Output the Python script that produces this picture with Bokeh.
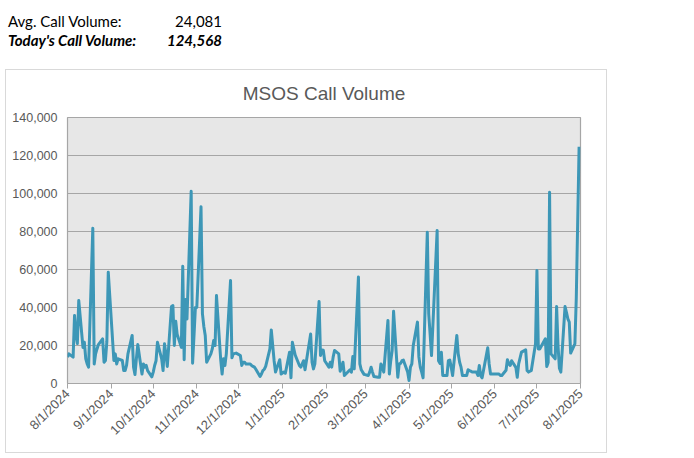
import math
import pandas as pd
from bokeh.plotting import figure
from bokeh.models import (ColumnDataSource, Range1d, FixedTicker, NumeralTickFormatter,
                          CustomJSTickFormatter, Div)
from bokeh.layouts import column
from bokeh.embed import file_html
from bokeh.resources import INLINE

# ---- header texts ----
avg_label = "Avg. Call Volume:"
avg_value = "24,081"
today_label = "Today's Call Volume:"
today_value = "124,568"
chart_title = "MSOS Call Volume"

# ---- axis ticks ----
tick_labels = ["8/1/2024", "9/1/2024", "10/1/2024", "11/1/2024", "12/1/2024", "1/1/2025",
               "2/1/2025", "3/1/2025", "4/1/2025", "5/1/2025", "6/1/2025", "7/1/2025", "8/1/2025"]
y_ticks = [0, 20000, 40000, 60000, 80000, 100000, 120000, 140000]

# ---- market holidays (no trading) ----
holidays = ["2024-09-02", "2024-11-28", "2024-12-25", "2025-01-01", "2025-01-09", "2025-01-20",
            "2025-02-17", "2025-04-18", "2025-05-26", "2025-06-19", "2025-07-04"]

# ---- daily call volume, one list per month (trading days in order) ----
aug_2024 = [13900, 15600, 13900, 35800, 26000, 21000, 43700, 19000, 21700, 13000, 10300, 8600,
            81700, 10300, 15600, 18200, 20500, 23500, 11200, 12100, 22000, 58600]
sep_2024 = [12100, 15600, 10300, 13000, 12100, 6800, 6800, 9500, 15600, 25300, 8600, 4700,
            13000, 20500, 5000, 10300, 8600, 9500, 6800, 3500]
oct_2024 = [6000, 9500, 12000, 21700, 13000, 6800, 20900, 15600, 9000, 40500, 41000, 20000,
            32800, 26000, 19000, 61700, 12500, 44200, 34000, 101200, 10700, 25000, 40000]
nov_2024 = [40000, 93000, 36800, 30000, 25300, 11200, 15600, 18200, 22600, 20000, 46300, 12600,
            5000, 13000, 9500, 15600, 54200, 13500, 15600, 16000]
dec_2024 = [14700, 9500, 11200, 11200, 10300, 10300, 9500, 9000, 8600, 7500, 3700, 5000,
            6800, 7500, 9000, 18200, 28200, 12000, 6000, 12500, 5000]
jan_2025 = [6000, 5400, 16500, 3000, 21700, 15000, 9500, 8600, 10300, 12000, 7200, 26000,
            11200, 7700, 10300, 43200, 14700, 17700, 17500, 12000]
feb_2025 = [8600, 11200, 8600, 13900, 17400, 15600, 6500, 8600, 11200, 4200, 7200, 6000,
            14200, 7700, 56000, 10300, 7200, 6000, 4800]
mar_2025 = [4200, 6000, 8600, 6000, 3700, 3300, 3300, 10300, 8600, 6000, 33200, 5000,
            12000, 17400, 38000, 3300, 10300, 10600, 12000, 12300, 6000]
apr_2025 = [1600, 8600, 10300, 20000, 32300, 14000, 8600, 6000, 3000, 79600, 36700, 26000,
            14700, 80500, 12000, 10600, 16500, 4200, 4200, 12000, 12300]
may_2025 = [8600, 4200, 25300, 15600, 11200, 8600, 4200, 4200, 7200, 6800, 6500, 6000,
            6000, 4200, 9500, 4000, 3000, 18800, 10300, 5000, 5000]
jun_2025 = [5000, 5000, 5000, 4200, 4200, 7000, 12500, 10300, 9500, 12000, 8500, 3300,
            10300, 16500, 17700, 6800, 6000, 6500, 6800, 20900]
jul_2025 = [59500, 18200, 18200, 23500, 8900, 11000, 100700, 15600, 13000, 40500, 20000, 8000,
            6000, 40500, 37500, 34000, 32300, 16000, 20900, 45000, 85000, 124568]

month_values = [("2024-08", aug_2024), ("2024-09", sep_2024), ("2024-10", oct_2024),
                ("2024-11", nov_2024), ("2024-12", dec_2024), ("2025-01", jan_2025),
                ("2025-02", feb_2025), ("2025-03", mar_2025), ("2025-04", apr_2025),
                ("2025-05", may_2025), ("2025-06", jun_2025), ("2025-07", jul_2025)]

hol = set(pd.to_datetime(holidays))
dates, vols = [], []
for m, vals in month_values:
    start = pd.Timestamp(m + "-01")
    end = start + pd.offsets.MonthEnd(0)
    days = [d for d in pd.bdate_range(start, end) if d not in hol]
    n = min(len(days), len(vals))
    dates += days[:n]
    vols += vals[:n]

source = ColumnDataSource(dict(date=dates, vol=vols))

tick_dates = pd.to_datetime(tick_labels, format="%m/%d/%Y")
tick_ms = [int(d.value // 10**6) for d in tick_dates]

FONT = "Liberation Sans"
TXT = "#595959"
GRID = "#a6a6a6"

p = figure(width=602, height=384, x_axis_type="datetime", output_backend="svg",
           toolbar_location=None,
           x_range=Range1d(tick_dates[0], tick_dates[-1]), y_range=Range1d(0, 140000),
           min_border_left=61, min_border_right=28, min_border_top=47, min_border_bottom=71,
           background_fill_color="#e7e7e7", border_fill_color="white",
           outline_line_color=GRID, outline_line_width=1.2)

p.title.text = chart_title
p.title.align = "center"
p.title.vertical_align = "top"
p.title.text_font = FONT
p.title.text_font_size = "19px"
p.title.text_font_style = "normal"
p.title.text_color = TXT
p.title.offset = -18
p.title.standoff = 23

p.line("date", "vol", source=source, line_color="#3d97b7", line_width=3, line_join="round")

p.yaxis.ticker = FixedTicker(ticks=y_ticks)
p.yaxis.formatter = NumeralTickFormatter(format="0,0")
p.yaxis.axis_line_color = None
p.yaxis.major_tick_line_color = None
p.yaxis.major_tick_in = 0
p.yaxis.major_tick_out = 0
p.yaxis.minor_tick_line_color = None
p.yaxis.minor_tick_out = 0
p.yaxis.major_label_standoff = 10
p.yaxis.major_label_text_font = FONT
p.yaxis.major_label_text_font_size = "12.5px"
p.yaxis.major_label_text_color = TXT

p.xaxis.ticker = FixedTicker(ticks=tick_ms)
p.xaxis.formatter = CustomJSTickFormatter(code="""
const d = new Date(tick);
return (d.getUTCMonth() + 1) + '/' + d.getUTCDate() + '/' + d.getUTCFullYear();
""")
p.xaxis.major_label_orientation = math.pi / 4
p.xaxis.axis_line_color = GRID
p.xaxis.axis_line_width = 1.2
p.xaxis.major_tick_line_color = GRID
p.xaxis.major_tick_in = 0
p.xaxis.major_tick_out = 5
p.xaxis.minor_tick_line_color = None
p.xaxis.major_label_standoff = 3
p.xaxis.major_label_text_font = FONT
p.xaxis.major_label_text_font_size = "13px"
p.xaxis.major_label_text_color = TXT

p.xgrid.grid_line_color = None
p.ygrid.grid_line_color = GRID
p.ygrid.grid_line_width = 1.2

p.margin = (0, 0, 0, 5)
p.styles = {"border": "1px solid #d9d9d9"}

hdr_font = "font-family:Lato, sans-serif;font-size:15px;color:#000;line-height:18px;white-space:nowrap;"
html = (
    '<div style="position:relative;width:694px;height:69px;">'
    f'<div style="position:absolute;left:8px;top:12px;{hdr_font}">{avg_label}</div>'
    f'<div style="position:absolute;left:0px;width:222px;text-align:right;top:12px;{hdr_font}">{avg_value}</div>'
    f'<div style="position:absolute;left:8px;top:31px;font-weight:bold;font-style:italic;{hdr_font}">{today_label}</div>'
    f'<div style="position:absolute;left:0px;width:222px;text-align:right;top:31px;font-weight:bold;font-style:italic;{hdr_font}">{today_value}</div>'
    '</div>'
)
header = Div(text=html, width=694, height=69, margin=(0, 0, 0, 0))

layout = column(header, p, margin=(0, 0, 0, 0), spacing=0)

with open("out.html", "w") as f:
    f.write(file_html(layout, INLINE))
